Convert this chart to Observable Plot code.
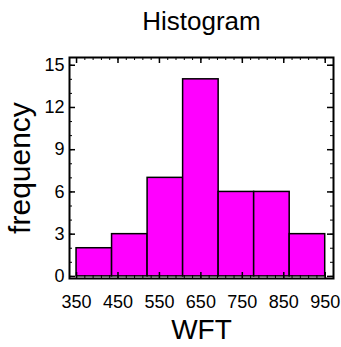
<!DOCTYPE html>
<html><head><meta charset="utf-8">
<script src="https://cdn.jsdelivr.net/npm/d3@7"></script>
<script src="https://cdn.jsdelivr.net/npm/@observablehq/plot@0.6"></script>
<style>body{margin:0;background:#fff;font-family:"Liberation Sans",Arial,sans-serif}</style>
</head><body><div id="chart"></div>
<script>
const binStart = [350, 435.71, 521.43, 607.14, 692.86, 778.57, 864.29];
const binEnd   = [435.71, 521.43, 607.14, 692.86, 778.57, 864.29, 950];
const counts   = [2, 3, 7, 14, 6, 6, 3];
const xTicks = [350, 450, 550, 650, 750, 850, 950];
const xMinor = [350,370,390,410,430,450,470,490,510,530,550,570,590,610,630,650,670,690,710,730,750,770,790,810,830,850,870,890,910,930,950];
const yTicks = [0, 3, 6, 9, 12, 15];
const yMinor = [0,1,2,3,4,5,6,7,8,9,10,11,12,13,14,15];
const title = "Histogram", xLabel = "WFT", yLabel = "frequency";

const data = binStart.map((s, i) => ({x1: s, x2: binEnd[i], y: counts[i]}));
const W = 341, H = 347, mL = 69, mR = 8, mT = 57, mB = 69;
const iW = W - mL - mR, iH = H - mT - mB;

const chart = Plot.plot({
  width: W, height: H,
  marginLeft: mL, marginRight: mR, marginTop: mT, marginBottom: mB,
  style: {fontFamily: "Liberation Sans, Arial, sans-serif", fontSize: "18px", background: "#fff", color: "#000"},
  x: {domain: [333, 970]},
  y: {domain: [-0.15, 15.55]},
  marks: [
    Plot.rectY(data, {x1: "x1", x2: "x2", y1: 0, y2: "y", fill: "#ff00ff", stroke: "black", strokeWidth: 1.5}),
    Plot.tickX(xMinor, {x: d => d, insetTop: iH - 3, stroke: "black"}),
    Plot.tickX(xMinor, {x: d => d, insetBottom: iH - 3, stroke: "black"}),
    Plot.tickX(xTicks, {x: d => d, insetTop: iH - 6, stroke: "black", strokeWidth: 1.5}),
    Plot.tickX(xTicks, {x: d => d, insetBottom: iH - 6, stroke: "black", strokeWidth: 1.5}),
    Plot.tickY(yMinor, {y: d => d, insetRight: iW - 3, stroke: "black"}),
    Plot.tickY(yMinor, {y: d => d, insetLeft: iW - 3, stroke: "black"}),
    Plot.tickY(yTicks, {y: d => d, insetRight: iW - 6, stroke: "black", strokeWidth: 1.5}),
    Plot.tickY(yTicks, {y: d => d, insetLeft: iW - 6, stroke: "black", strokeWidth: 1.5}),
    Plot.frame({stroke: "black", strokeWidth: 2}),
    Plot.axisX(xTicks, {anchor: "bottom", tickSize: 0, tickPadding: 17, fontSize: 18, label: null}),
    Plot.axisY(yTicks, {anchor: "left", tickSize: 0, tickPadding: 5, fontSize: 18, label: null}),
    Plot.text([title], {frameAnchor: "top", dy: -36, lineAnchor: "middle", textAnchor: "middle", fontSize: 26, fill: "black"}),
    Plot.text([xLabel], {frameAnchor: "bottom", dy: 52, lineAnchor: "middle", textAnchor: "middle", fontSize: 28, fill: "black"}),
    Plot.text([yLabel], {frameAnchor: "left", dx: -49, rotate: -90, lineAnchor: "middle", textAnchor: "middle", fontSize: 30, fill: "black"})
  ]
});
document.getElementById("chart").appendChild(chart);
</script>
</body></html>
